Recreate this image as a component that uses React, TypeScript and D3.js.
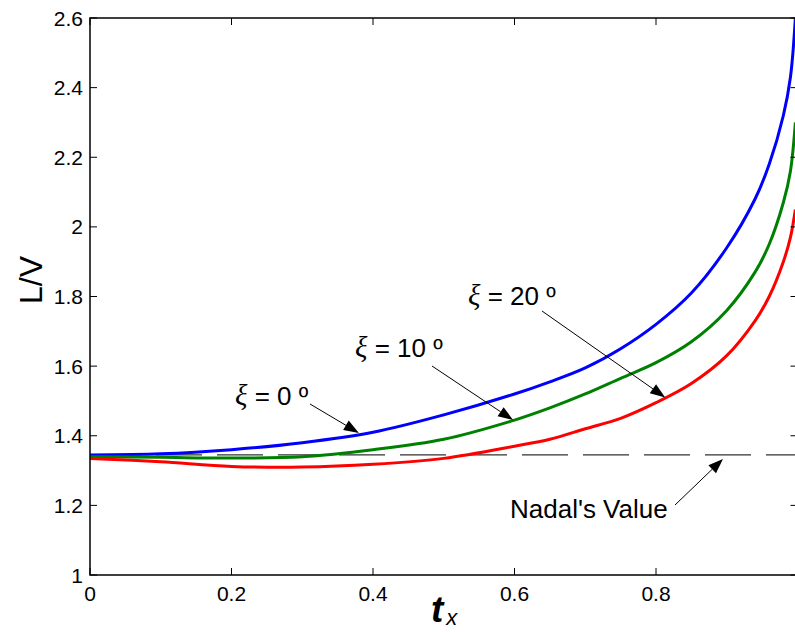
import React from "react";
import * as d3 from "d3";

const tVals = [0, 0.1, 0.2, 0.3, 0.4, 0.5, 0.6, 0.65, 0.7, 0.75, 0.8, 0.85, 0.9, 0.94, 0.96, 0.98, 0.99, 0.997];
const blueVals = [1.345, 1.348, 1.36, 1.38, 1.41, 1.46, 1.52, 1.555, 1.595, 1.65, 1.72, 1.81, 1.94, 2.08, 2.18, 2.32, 2.43, 2.6];
const greenVals = [1.34, 1.338, 1.336, 1.34, 1.36, 1.39, 1.445, 1.48, 1.52, 1.565, 1.61, 1.67, 1.76, 1.87, 1.95, 2.07, 2.16, 2.3];
const redVals = [1.335, 1.325, 1.312, 1.31, 1.318, 1.335, 1.37, 1.39, 1.42, 1.45, 1.495, 1.55, 1.63, 1.73, 1.8, 1.9, 1.97, 2.05];
const nadalValue = 1.345;
const xTicks = [0, 0.2, 0.4, 0.6, 0.8, 1];
const yTicks = [1, 1.2, 1.4, 1.6, 1.8, 2, 2.2, 2.4, 2.6];

const series = [
  { name: "ξ = 0 º", color: "#0000ff", vals: blueVals },
  { name: "ξ = 10 º", color: "#008000", vals: greenVals },
  { name: "ξ = 20 º", color: "#ff0000", vals: redVals },
];

const W = 795, H = 632;
const x = d3.scaleLinear().domain([0, 1]).range([90, 797.5]);
const y = d3.scaleLinear().domain([1, 2.6]).range([575, 18]);

const FONT = "'Liberation Sans', Arial, sans-serif";

function Arrow({ x1, y1, x2, y2 }: { x1: number; y1: number; x2: number; y2: number }) {
  const ang = Math.atan2(y2 - y1, x2 - x1);
  const L = 15, hw = 5.5;
  const bx = x2 - L * Math.cos(ang), by = y2 - L * Math.sin(ang);
  const px = -Math.sin(ang) * hw, py = Math.cos(ang) * hw;
  return (
    <g>
      <line x1={x1} y1={y1} x2={bx} y2={by} stroke="#000" strokeWidth={1} />
      <polygon points={`${x2},${y2} ${bx + px},${by + py} ${bx - px},${by - py}`} fill="#000" />
    </g>
  );
}

function Label({ xx, yy, num }: { xx: number; yy: number; num: string }) {
  return (
    <text x={xx} y={yy} fontFamily={FONT} fontSize={26} fill="#000">
      <tspan fontFamily="'Liberation Serif', serif" fontStyle="italic" fontSize={29}>ξ</tspan>
      <tspan> = {num} º</tspan>
    </text>
  );
}

export default function App() {
  const line = d3
    .line<number>()
    .x((_, i) => x(tVals[i]))
    .y((v) => y(v))
    .curve(d3.curveCatmullRom.alpha(0.5));

  return (
    <svg width={W} height={H} style={{ position: "absolute", left: 0, top: 0, background: "#fff" }}>
      <defs>
        <clipPath id="plot">
          <rect x={x(0)} y={y(2.6)} width={x(1) - x(0)} height={y(1) - y(2.6)} />
        </clipPath>
      </defs>
      <rect width={W} height={H} fill="#fff" />
      <line
        x1={x(0)} x2={x(1)} y1={y(nadalValue)} y2={y(nadalValue)}
        stroke="#333" strokeWidth={1.2} strokeDasharray="46,15" strokeDashoffset={56}
      />
      <g clipPath="url(#plot)">
        {series.map((s) => (
          <path key={s.name} d={line(s.vals) || ""} fill="none" stroke={s.color} strokeWidth={3} />
        ))}
      </g>
      <rect x={x(0)} y={y(2.6)} width={x(1) - x(0)} height={y(1) - y(2.6)} fill="none" stroke="#000" strokeWidth={1.5} />
      {xTicks.map((t) => (
        <g key={"xt" + t}>
          <line x1={x(t)} x2={x(t)} y1={y(1)} y2={y(1) - 7} stroke="#000" strokeWidth={1} />
          <line x1={x(t)} x2={x(t)} y1={y(2.6)} y2={y(2.6) + 7} stroke="#000" strokeWidth={1} />
          {t < 1 && (
            <text x={x(t)} y={601} textAnchor="middle" fontFamily={FONT} fontSize={21} fill="#000">
              {d3.format("")(t)}
            </text>
          )}
        </g>
      ))}
      {yTicks.map((v) => (
        <g key={"yt" + v}>
          <line x1={x(0)} x2={x(0) + 7} y1={y(v)} y2={y(v)} stroke="#000" strokeWidth={1} />
          <line x1={x(1)} x2={x(1) - 7} y1={y(v)} y2={y(v)} stroke="#000" strokeWidth={1} />
          <text x={83} y={y(v)} dy="0.36em" textAnchor="end" fontFamily={FONT} fontSize={21} fill="#000">
            {d3.format("")(v)}
          </text>
        </g>
      ))}
      <text transform="translate(42,280) rotate(-90)" textAnchor="middle" fontFamily={FONT} fontSize={32} fill="#000">
        L/V
      </text>
      <text x={431} y={622} fontFamily={FONT} fontSize={37} fontStyle="italic" fontWeight="bold" fill="#000">
        t<tspan fontSize={22} fontWeight="normal" dy={3} dx={3}>x</tspan>
      </text>
      <Label xx={235} yy={405} num="0" />
      <Arrow x1={310} y1={404} x2={x(0.38)} y2={y(1.408)} />
      <Label xx={355} yy={357} num="10" />
      <Arrow x1={432} y1={366} x2={x(0.598)} y2={y(1.445)} />
      <Label xx={468} yy={305} num="20" />
      <Arrow x1={542} y1={311} x2={x(0.813)} y2={y(1.51)} />
      <text x={510} y={518} fontFamily={FONT} fontSize={26} fill="#000">Nadal's Value</text>
      <Arrow x1={675} y1={505} x2={723} y2={y(nadalValue) + 4} />
    </svg>
  );
}
